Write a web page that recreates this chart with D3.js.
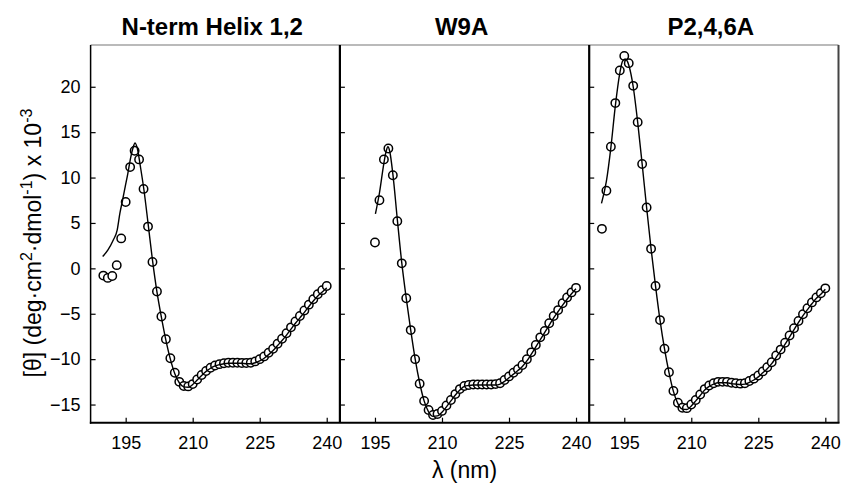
<!DOCTYPE html>
<html>
<head>
<meta charset="utf-8">
<script src="https://cdn.jsdelivr.net/npm/d3@7"></script>
<style>
  html, body { margin: 0; padding: 0; background: #fff; }
  svg { display: block; font-family: "Liberation Sans", Arial, sans-serif; }
</style>
</head>
<body>
<svg id="chart" width="843" height="486"></svg>
<script>
// ---------------- data ----------------
const panelTitles = ["N-term Helix 1,2", "W9A", "P2,4,6A"];
const xTickValues = [195, 210, 225, 240];
const yTickValues = [-15, -10, -5, 0, 5, 10, 15, 20];

// observed points (nm, value x 10^-3)
const p1Nm = [190,191,192,193,194,195,196,197,198,199,200,201,202,203,204,205,206,207,208,209,210,
  211,212,213,214,215,216,217,218,219,220,221,222,223,224,225,226,227,228,229,230,231,232,233,234,235,236,237,238,239,240];
const p1Obs = [-0.8,-1.05,-0.85,0.35,3.3,7.3,11.15,12.95,12.0,8.75,4.6,0.7,-2.55,-5.3,-7.8,-9.9,-11.5,-12.5,-12.95,-13.0,-12.75,
  -12.25,-11.75,-11.3,-10.95,-10.7,-10.55,-10.45,-10.4,-10.4,-10.4,-10.42,-10.42,-10.4,-10.25,-10.0,-9.7,-9.3,-8.85,-8.3,-7.75,
  -7.15,-6.5,-5.85,-5.25,-4.65,-4.0,-3.4,-2.85,-2.4,-1.95];

const p2Nm = [195,196,197,198,199,200,201,202,203,204,205,206,207,208,209,210,
  211,212,213,214,215,216,217,218,219,220,221,222,223,224,225,226,227,228,229,230,231,232,233,234,235,236,237,238,239,240];
const p2Obs = [2.85,7.5,12.0,13.2,10.25,5.2,0.55,-3.3,-6.8,-10.0,-12.7,-14.6,-15.6,-16.15,-16.05,-15.7,
  -15.1,-14.5,-13.85,-13.3,-12.95,-12.85,-12.8,-12.8,-12.8,-12.8,-12.8,-12.75,-12.65,-12.3,-11.9,-11.5,-11.1,-10.65,-10.0,-9.25,
  -8.45,-7.6,-6.9,-6.05,-5.25,-4.6,-3.85,-3.2,-2.65,-2.15];

const p3Nm = [190,191,192,193,194,195,196,197,198,199,200,201,202,203,204,205,206,207,208,209,210,
  211,212,213,214,215,216,217,218,219,220,221,222,223,224,225,226,227,228,229,230,231,232,233,234,235,236,237,238,239,240];
const p3Obs = [4.35,8.55,13.4,18.2,21.8,23.4,22.6,20.1,16.1,11.5,6.7,2.15,-1.95,-5.7,-8.85,-11.45,-13.5,-14.8,-15.35,-15.4,-15.0,
  -14.5,-13.9,-13.3,-12.9,-12.65,-12.5,-12.5,-12.5,-12.6,-12.65,-12.7,-12.65,-12.4,-12.15,-11.8,-11.35,-10.9,-10.35,-9.6,-8.95,
  -8.2,-7.4,-6.6,-5.8,-5.05,-4.4,-3.75,-3.2,-2.75,-2.2];

// fitted curves
const p1FitNm = [189.85,191,192.2,193.1,193.7,194.3,194.9,195.5,196,196.6,197.1,197.7,198.3,199.1,200,201,202,203,204,205,206,207,208,209,210,
  211,212,213,214,215,216,217,218,219,220,221,222,223,224,225,226,227,228,229,230,231,232,233,234,235,236,237,238,239,240];
const p1FitVal = [1.3,2.0,3.1,4.2,6.05,7.5,9.0,10.5,11.9,13.2,13.8,13.0,11.2,8.6,5.0,0.9,-2.6,-5.4,-7.9,-10.0,-11.6,-12.6,-13.05,-13.1,-12.8,
  -12.3,-11.8,-11.35,-11.0,-10.75,-10.6,-10.5,-10.45,-10.45,-10.45,-10.45,-10.5,-10.5,-10.4,-10.2,-9.9,-9.5,-9.05,-8.5,-7.95,
  -7.35,-6.7,-6.05,-5.45,-4.85,-4.2,-3.6,-3.05,-2.6,-2.15];

const p2FitNm = [195.1,196,197,197.5,197.9,198.3,199,200,201,202,203,204,205,206,207,208,209,210,
  211,212,213,214,215,216,217,218,219,220,221,222,223,224,225,226,227,228,229,230,231,232,233,234,235,236,237,238,239,240];
const p2FitVal = [6.0,8.3,11.6,12.9,13.4,12.9,10.4,5.4,0.6,-3.3,-6.8,-10.0,-12.6,-14.6,-15.8,-16.3,-16.25,-15.85,
  -15.25,-14.6,-13.95,-13.4,-13.0,-12.9,-12.85,-12.85,-12.85,-12.85,-12.85,-12.85,-12.75,-12.45,-12.05,-11.65,-11.25,-10.8,-10.2,-9.45,
  -8.65,-7.85,-7.05,-6.25,-5.45,-4.75,-4.05,-3.4,-2.8,-2.25];

const p3FitNm = [189.9,191,192,193,194,194.6,195.2,195.7,196,197,198,199,200,201,202,203,204,205,206,207,208,209,210,
  211,212,213,214,215,216,217,218,219,220,221,222,223,224,225,226,227,228,229,230,231,232,233,234,235,236,237,238,239,240];
const p3FitVal = [7.15,9.6,13.3,17.9,21.5,22.8,23.05,22.8,22.4,20.0,16.1,11.5,6.7,2.15,-1.95,-5.7,-8.85,-11.45,-13.55,-14.9,-15.5,-15.55,-15.15,
  -14.6,-14.0,-13.4,-13.0,-12.75,-12.6,-12.6,-12.6,-12.7,-12.75,-12.8,-12.75,-12.55,-12.3,-11.95,-11.5,-11.05,-10.5,-9.8,-9.1,
  -8.35,-7.55,-6.75,-5.95,-5.2,-4.55,-3.9,-3.3,-2.85,-2.3];

const panels = [
  { title: panelTitles[0], nm: p1Nm, obs: p1Obs, fitNm: p1FitNm, fit: p1FitVal },
  { title: panelTitles[1], nm: p2Nm, obs: p2Obs, fitNm: p2FitNm, fit: p2FitVal },
  { title: panelTitles[2], nm: p3Nm, obs: p3Obs, fitNm: p3FitNm, fit: p3FitVal }
];

// ---------------- layout ----------------
const svg = d3.select("#chart");
const left0 = 90.6, panelW = 249.3, plotTop = 45, plotBottom = 422.7;
const yScale = d3.scaleLinear().domain([-17, 24.6]).range([plotBottom, plotTop]);
const xDomain = [187.15, 242.95];

panels.forEach((p, i) => {
  const x0 = left0 + i * panelW;
  const xScale = d3.scaleLinear().domain(xDomain).range([x0, x0 + panelW]);
  const g = svg.append("g");

  // x axis ticks (inward)
  const xAxis = d3.axisBottom(xScale).tickValues(xTickValues).tickSize(-5).tickPadding(14).tickFormat(d3.format("d"));
  const gx = g.append("g").attr("transform", `translate(0,${plotBottom})`).call(xAxis);
  gx.select(".domain").remove();
  gx.selectAll(".tick line").attr("stroke", "#000").attr("stroke-width", 1.2);
  gx.selectAll(".tick text").attr("font-size", 18).attr("fill", "#000")
    .attr("font-family", '"Liberation Sans", Arial, sans-serif');

  // y axis ticks (inward)
  const yAxis = d3.axisLeft(yScale).tickValues(yTickValues).tickSize(-5).tickPadding(10)
    .tickFormat(i === 0 ? d3.format("d") : () => "");
  const gy = g.append("g").attr("transform", `translate(${x0},0)`).call(yAxis);
  gy.select(".domain").remove();
  gy.selectAll(".tick line").attr("stroke", "#000").attr("stroke-width", 1.2);
  gy.selectAll(".tick text").attr("font-size", 18).attr("fill", "#000")
    .attr("font-family", '"Liberation Sans", Arial, sans-serif');

  // data circles
  const pts = p.nm.map((n, k) => [n, p.obs[k]]);
  g.append("g").selectAll("circle").data(pts).join("circle")
    .attr("cx", d => xScale(d[0])).attr("cy", d => yScale(d[1])).attr("r", 4.2)
    .attr("fill", "#fff").attr("stroke", "#000").attr("stroke-width", 1.5);

  // fit line
  const fitPts = p.fitNm.map((n, k) => [n, p.fit[k]]);
  const line = d3.line().x(d => xScale(d[0])).y(d => yScale(d[1])).curve(d3.curveMonotoneX);
  g.append("path").datum(fitPts).attr("d", line)
    .attr("fill", "none").attr("stroke", "#000").attr("stroke-width", 1.4);

  // title
  svg.append("text").attr("x", x0 + panelW / 2 - 3).attr("y", 35)
    .attr("text-anchor", "middle").attr("font-weight", "bold").attr("font-size", 24)
    .text(p.title);
});

// frame
const plotRight = left0 + 3 * panelW;
svg.append("line").attr("x1", left0).attr("x2", plotRight).attr("y1", plotTop).attr("y2", plotTop)
  .attr("stroke", "#777").attr("stroke-width", 1.2);
svg.append("line").attr("x1", plotRight).attr("x2", plotRight).attr("y1", plotTop).attr("y2", plotBottom)
  .attr("stroke", "#444").attr("stroke-width", 2);
svg.append("line").attr("x1", left0).attr("x2", left0).attr("y1", plotTop).attr("y2", plotBottom + 1)
  .attr("stroke", "#000").attr("stroke-width", 1.5);
[1, 2].forEach(k => {
  const xx = left0 + k * panelW;
  svg.append("line").attr("x1", xx).attr("x2", xx).attr("y1", plotTop).attr("y2", plotBottom)
    .attr("stroke", "#000").attr("stroke-width", 2.2);
});
svg.append("line").attr("x1", left0 - 0.75).attr("x2", plotRight + 1).attr("y1", plotBottom).attr("y2", plotBottom)
  .attr("stroke", "#000").attr("stroke-width", 2);

// axis labels
svg.append("text").attr("x", left0 + 1.5 * panelW).attr("y", 478)
  .attr("text-anchor", "middle").attr("font-size", 23).text("λ (nm)");

const yl = svg.append("text").attr("transform", "translate(41,243) rotate(-90)")
  .attr("text-anchor", "middle").attr("font-size", 23);
yl.append("tspan").text("[θ] (deg·cm");
yl.append("tspan").attr("font-size", 16).attr("dy", -9).text("2");
yl.append("tspan").attr("dy", 9).text("·dmol");
yl.append("tspan").attr("font-size", 16).attr("dy", -9).text("-1");
yl.append("tspan").attr("dy", 9).text(") x 10");
yl.append("tspan").attr("font-size", 16).attr("dy", -9).text("-3");
</script>
</body>
</html>
